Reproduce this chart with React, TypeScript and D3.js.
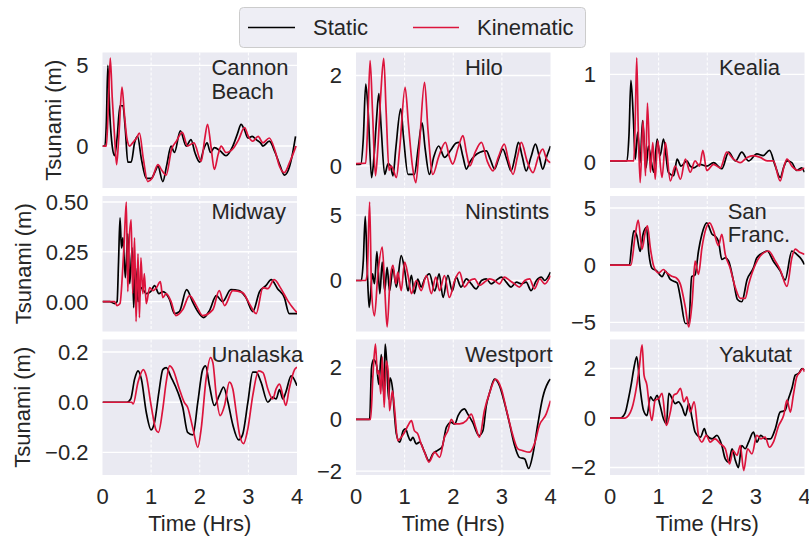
import React from 'react'
import * as d3 from 'd3'

// station names, "\n" where the label wraps inside the panel
const stations = ['Cannon\nBeach', 'Hilo', 'Kealia', 'Midway', 'Ninstints', 'San\nFranc.', 'Unalaska', 'Westport', 'Yakutat']

const timeTicks = [0, 1, 2, 3, 4]

const yTicks = [[0, 5], [0, 2], [0, 1], [0, 0.25, 0.5], [0, 5], [-5, 0, 5], [-0.2, 0, 0.2], [-2, 0, 2], [-2, 0, 2]]
const yLimits = [[-2.6, 5.8], [-0.49, 2.51], [-0.3, 1.25], [-0.15, 0.53], [-3.9, 6.46], [-5.8, 6.05], [-0.29, 0.25], [-2.15, 3.08], [-2.3, 3.17]]
const tickFormats = ['d', 'd', 'd', '.2f', 'd', 'd', '.1f', 'd', 'd']

// [hours, metres]
const cannonStatic = [[0,0],[0.05,0],[0.08,1.5],[0.11,5.0],[0.15,2.0],[0.2,0.0],[0.25,-0.6],[0.3,0.5],[0.36,2.5],[0.42,2.5],[0.47,1.0],[0.52,-1.0],[0.59,-1.0],[0.66,0.2],[0.72,0.6],[0.8,-0.8],[0.9,-2.0],[1.0,-2.0],[1.08,-1.6],[1.14,-1.25],[1.24,-2.2],[1.32,-1.2],[1.41,0.0],[1.48,-0.4],[1.6,0.95],[1.72,0.0],[1.82,0.4],[1.9,-0.4],[2.0,-1.0],[2.08,-0.2],[2.15,0.2],[2.22,-0.4],[2.3,-0.1],[2.42,-0.3],[2.54,-0.6],[2.68,0.0],[2.78,0.8],[2.85,1.35],[2.92,1.0],[2.99,0.5],[3.08,0.6],[3.16,0.4],[3.25,0.2],[3.3,0.0],[3.43,0.3],[3.55,-0.4],[3.65,-1.2],[3.74,-1.8],[3.82,-1.5],[3.9,-0.6],[3.97,0.6]]
const cannonKinematic = [[0,0],[0.08,0],[0.12,2.5],[0.16,5.45],[0.2,3.0],[0.25,0.5],[0.29,-1.15],[0.34,0.8],[0.4,3.65],[0.45,2.0],[0.5,0.5],[0.56,0.0],[0.62,0.2],[0.7,0.5],[0.76,0.8],[0.84,-0.8],[0.93,-2.2],[1.02,-2.0],[1.14,-1.15],[1.22,-1.5],[1.31,-1.8],[1.42,-0.2],[1.52,0.3],[1.64,0.85],[1.75,0.0],[1.88,0.2],[2.03,-0.95],[2.1,0.4],[2.16,1.35],[2.23,0.0],[2.3,-1.45],[2.38,-0.5],[2.44,0.0],[2.54,-0.4],[2.7,-0.1],[2.8,0.4],[2.92,1.15],[3.0,0.6],[3.09,0.3],[3.2,0.6],[3.3,0.2],[3.43,0.5],[3.55,-0.3],[3.64,-1.25],[3.74,-1.65],[3.85,-1.0],[3.98,0.0]]

const hiloStatic = [[0,0.03],[0.1,0.04],[0.15,0.6],[0.2,1.81],[0.25,1.2],[0.32,-0.26],[0.37,0.2],[0.42,1.0],[0.47,1.6],[0.52,0.8],[0.59,-0.19],[0.66,0.05],[0.71,0.0],[0.76,-0.22],[0.82,0.4],[0.92,1.26],[0.98,0.6],[1.07,-0.19],[1.2,-0.19],[1.28,0.4],[1.36,0.95],[1.42,0.4],[1.51,-0.19],[1.6,0.2],[1.7,0.44],[1.82,0.19],[1.95,0.35],[2.05,0.5],[2.12,0.52],[2.2,0.2],[2.27,-0.07],[2.35,0.1],[2.44,0.22],[2.55,0.3],[2.68,0.33],[2.76,0.15],[2.85,-0.07],[2.93,0.15],[3.02,0.37],[3.1,0.15],[3.19,-0.11],[3.27,0.2],[3.34,0.52],[3.42,0.2],[3.5,-0.11],[3.6,0.2],[3.69,0.48],[3.77,0.2],[3.84,-0.07],[3.92,0.2],[4.0,0.44]]
const hiloKinematic = [[0,0.05],[0.2,0.06],[0.24,0.9],[0.29,2.33],[0.34,1.2],[0.4,-0.22],[0.45,0.4],[0.51,1.6],[0.57,2.38],[0.62,1.2],[0.68,-0.1],[0.72,0.0],[0.77,-0.1],[0.83,-0.26],[0.9,0.4],[1.01,1.74],[1.08,0.9],[1.16,0.0],[1.23,-0.37],[1.3,0.4],[1.41,1.85],[1.48,0.8],[1.58,-0.19],[1.7,0.2],[1.84,0.52],[1.92,0.2],[1.99,0.04],[2.1,0.4],[2.2,0.67],[2.27,0.3],[2.34,0.0],[2.45,0.3],[2.58,0.52],[2.7,0.1],[2.82,-0.11],[2.93,0.2],[3.05,0.48],[3.14,0.1],[3.23,-0.19],[3.32,0.2],[3.4,0.52],[3.52,0.1],[3.64,-0.15],[3.75,0.2],[3.84,0.37],[3.92,0.15],[4.0,0.07]]

const kealiaStatic = [[0,0.01],[0.35,0.01],[0.39,0.3],[0.43,0.93],[0.48,0.5],[0.52,0.03],[0.57,0.34],[0.62,-0.01],[0.67,0.47],[0.74,-0.07],[0.79,0.18],[0.85,0.0],[0.9,-0.12],[0.97,0.26],[1.03,0.07],[1.1,0.26],[1.2,-0.12],[1.31,-0.16],[1.38,0.03],[1.46,-0.05],[1.58,0.01],[1.65,-0.05],[1.72,-0.07],[1.85,-0.03],[1.99,-0.05],[2.13,-0.01],[2.3,-0.08],[2.44,0.11],[2.58,0.01],[2.71,0.11],[2.85,0.01],[3.02,0.09],[3.15,0.07],[3.28,0.13],[3.4,-0.05],[3.5,-0.18],[3.58,-0.05],[3.64,0.01],[3.74,-0.01],[3.84,-0.1],[3.94,-0.07],[4.0,-0.12]]
const kealiaKinematic = [[0,0.01],[0.49,0.01],[0.52,0.5],[0.55,1.19],[0.58,0.4],[0.62,-0.24],[0.68,0.47],[0.73,-0.16],[0.77,0.67],[0.83,-0.12],[0.88,0.22],[0.93,-0.2],[0.98,0.24],[1.07,-0.18],[1.14,0.22],[1.24,-0.22],[1.34,-0.05],[1.45,-0.2],[1.55,0.03],[1.65,-0.12],[1.75,0.01],[1.84,-0.05],[1.91,0.13],[1.99,-0.1],[2.13,-0.03],[2.27,-0.07],[2.4,0.11],[2.54,0.03],[2.68,-0.01],[2.82,0.05],[2.95,0.07],[3.09,0.05],[3.23,0.01],[3.36,0.01],[3.5,-0.22],[3.58,-0.05],[3.64,0.03],[3.74,-0.05],[3.88,-0.1],[4.0,-0.07]]

const midwayStatic = [[0,0],[0.15,0],[0.25,-0.01],[0.3,0.0],[0.33,0.2],[0.36,0.42],[0.39,0.27],[0.42,0.32],[0.47,0.12],[0.52,0.34],[0.56,0.09],[0.61,0.27],[0.64,-0.03],[0.68,0.17],[0.73,0.0],[0.8,0.07],[0.9,0.04],[0.99,0.05],[1.07,0.08],[1.16,0.04],[1.24,0.05],[1.38,0.01],[1.48,-0.06],[1.58,-0.05],[1.73,0.06],[1.85,0.0],[1.96,-0.05],[2.08,-0.08],[2.2,-0.045],[2.34,0.03],[2.47,0.0],[2.64,0.06],[2.81,0.055],[2.95,0.02],[3.09,-0.05],[3.23,0.05],[3.36,0.08],[3.47,0.11],[3.6,0.065],[3.74,0.02],[3.84,-0.06],[4.0,-0.06]]
const midwayKinematic = [[0,0],[0.25,0],[0.3,-0.02],[0.36,-0.01],[0.41,0.14],[0.45,0.32],[0.49,0.5],[0.52,0.05],[0.55,0.31],[0.59,0.41],[0.62,0.04],[0.66,0.32],[0.69,-0.1],[0.73,0.24],[0.76,-0.08],[0.79,0.22],[0.83,0.04],[0.86,0.14],[0.9,-0.01],[0.97,0.07],[1.04,0.055],[1.11,0.07],[1.19,0.1],[1.24,0.02],[1.31,0.04],[1.41,0.0],[1.51,-0.07],[1.65,-0.04],[1.79,0.03],[1.93,-0.02],[2.06,-0.07],[2.27,-0.04],[2.4,0.055],[2.51,-0.02],[2.68,0.055],[2.88,0.045],[3.02,-0.01],[3.16,-0.06],[3.3,0.07],[3.4,0.065],[3.53,0.11],[3.67,0.065],[3.81,0.005],[3.91,-0.03],[4.0,-0.055]]

const ninstintsStatic = [[0,0],[0.11,0],[0.15,1.5],[0.19,4.9],[0.23,1.0],[0.27,-2.05],[0.34,0.5],[0.38,-0.25],[0.43,2.2],[0.49,-1.0],[0.54,1.4],[0.59,-0.8],[0.64,1.0],[0.69,-0.8],[0.76,0.9],[0.83,-0.5],[0.93,1.9],[1.0,0.8],[1.07,-0.8],[1.14,0.4],[1.2,-1.0],[1.27,0.1],[1.34,-0.5],[1.41,0.1],[1.51,0.5],[1.62,-0.8],[1.71,0.5],[1.79,-1.3],[1.89,0.4],[1.98,-0.8],[2.06,0.25],[2.16,-0.5],[2.27,0.13],[2.37,-0.26],[2.47,-0.64],[2.58,0.0],[2.68,0.13],[2.78,-0.26],[2.88,0.0],[2.99,0.26],[3.09,-0.13],[3.19,-0.5],[3.3,-0.13],[3.4,-0.26],[3.5,-0.13],[3.6,-0.77],[3.71,0.0],[3.81,0.26],[3.88,0.0],[4.0,0.64]]
const ninstintsKinematic = [[0,0],[0.2,0],[0.23,0.5],[0.28,6.0],[0.32,-0.8],[0.38,-2.7],[0.45,0.5],[0.54,2.56],[0.59,-0.5],[0.64,-3.55],[0.7,0.0],[0.76,1.15],[0.82,-0.26],[0.86,0.64],[0.93,-0.77],[1.0,1.4],[1.07,0.38],[1.14,-1.0],[1.24,0.0],[1.34,-0.77],[1.45,0.38],[1.55,-1.0],[1.64,0.26],[1.72,-0.77],[1.82,0.38],[1.92,-1.3],[2.03,0.0],[2.13,0.64],[2.23,-0.5],[2.34,0.0],[2.44,0.13],[2.54,-0.38],[2.64,-0.13],[2.75,0.13],[2.85,0.0],[2.95,-0.26],[3.05,0.26],[3.16,0.0],[3.26,-0.26],[3.36,-0.5],[3.47,0.0],[3.57,0.13],[3.67,-0.64],[3.78,0.13],[3.88,-0.26],[4.0,0.38]]

const sanFrancStatic = [[0,0],[0.4,0],[0.44,1.5],[0.49,3.0],[0.55,2.6],[0.62,1.2],[0.68,2.7],[0.75,3.3],[0.8,1.0],[0.86,-0.24],[0.96,-0.5],[1.07,-1.0],[1.14,-0.55],[1.24,-1.25],[1.31,-1.4],[1.38,-1.55],[1.45,-2.9],[1.55,-5.1],[1.62,-5.1],[1.68,-1.0],[1.75,-0.85],[1.82,1.24],[1.89,2.7],[1.99,3.7],[2.1,2.7],[2.16,2.55],[2.23,2.1],[2.3,0.5],[2.37,0.65],[2.44,0.35],[2.54,-1.4],[2.62,-3.0],[2.71,-3.2],[2.82,-1.25],[2.95,-0.24],[3.02,0.65],[3.16,1.1],[3.23,1.24],[3.36,0.35],[3.5,-0.5],[3.6,-1.3],[3.74,1.24],[3.84,0.95],[3.94,0.5],[4.0,0.06]]
const sanFrancKinematic = [[0,0],[0.43,0],[0.52,2.7],[0.58,3.94],[0.66,1.4],[0.73,3.0],[0.77,3.44],[0.83,1.5],[0.9,-0.1],[1.0,-0.68],[1.1,-0.38],[1.17,-0.68],[1.27,-0.97],[1.36,-1.1],[1.45,-1.7],[1.55,-3.7],[1.62,-5.4],[1.69,-3.2],[1.75,0.35],[1.82,-0.8],[1.89,1.5],[1.96,3.0],[2.05,3.7],[2.13,3.0],[2.23,1.7],[2.3,2.7],[2.37,0.95],[2.47,-0.24],[2.58,-2.0],[2.68,-2.9],[2.78,-2.9],[2.85,-1.7],[2.99,0.06],[3.09,0.8],[3.26,1.24],[3.4,0.35],[3.5,-0.4],[3.64,-1.85],[3.74,0.65],[3.81,1.4],[3.91,1.1],[4.0,0.95]]

const unalaskaStatic = [[0,0],[0.5,0],[0.58,0.013],[0.66,0.092],[0.73,0.125],[0.8,0.092],[0.9,-0.04],[1.0,-0.11],[1.07,-0.08],[1.16,0.04],[1.24,0.13],[1.31,0.138],[1.41,0.1],[1.55,0.04],[1.65,-0.02],[1.75,-0.12],[1.86,-0.13],[1.96,0.0],[2.06,0.13],[2.12,0.145],[2.2,0.066],[2.3,-0.013],[2.4,0.026],[2.49,0.06],[2.58,0.0],[2.68,-0.09],[2.8,-0.15],[2.88,-0.13],[2.99,0.0],[3.09,0.12],[3.16,0.12],[3.26,0.08],[3.4,0.0],[3.5,0.02],[3.57,0.013],[3.64,0.05],[3.71,0.013],[3.77,0.04],[3.88,0.105],[4.0,0.066]]
const unalaskaKinematic = [[0,0],[0.6,0],[0.63,-0.007],[0.73,0.08],[0.84,0.13],[0.9,0.105],[1.0,-0.013],[1.1,-0.11],[1.15,-0.12],[1.24,-0.026],[1.31,0.08],[1.38,0.145],[1.45,0.13],[1.58,0.053],[1.68,0.0],[1.75,-0.02],[1.86,-0.105],[1.96,-0.18],[2.03,-0.105],[2.13,0.092],[2.22,0.178],[2.27,0.158],[2.34,0.026],[2.42,-0.053],[2.51,-0.013],[2.61,0.08],[2.68,0.053],[2.75,-0.04],[2.82,-0.13],[2.9,-0.165],[2.99,-0.105],[3.09,0.026],[3.21,0.125],[3.3,0.118],[3.4,0.053],[3.5,0.013],[3.57,0.053],[3.64,0.072],[3.71,0.026],[3.77,-0.013],[3.84,0.053],[3.95,0.13],[4.0,0.14]]

const westportStatic = [[0,0],[0.28,0],[0.32,2.0],[0.36,2.3],[0.42,2.1],[0.47,1.35],[0.52,2.5],[0.57,1.0],[0.6,2.9],[0.63,2.25],[0.67,0.78],[0.7,1.6],[0.75,1.2],[0.79,0.2],[0.83,-0.56],[0.9,-0.88],[0.97,-0.44],[1.02,-0.37],[1.07,-0.63],[1.12,-0.82],[1.17,-0.7],[1.24,-0.95],[1.31,-0.88],[1.41,-1.27],[1.5,-1.6],[1.58,-1.33],[1.68,-1.2],[1.77,-1.07],[1.86,-0.3],[1.96,-0.12],[2.03,-0.18],[2.1,0.14],[2.23,0.4],[2.3,0.2],[2.4,-0.12],[2.53,-0.63],[2.61,-0.44],[2.68,0.53],[2.75,1.04],[2.85,1.55],[2.95,1.3],[3.06,0.59],[3.16,-0.18],[3.26,-1.0],[3.36,-1.47],[3.47,-1.53],[3.55,-1.9],[3.64,-1.33],[3.74,-0.18],[3.84,0.84],[3.95,1.42],[4.0,1.55]]
const westportKinematic = [[0,0],[0.3,0],[0.35,1.75],[0.4,2.9],[0.44,1.75],[0.47,1.88],[0.51,0.98],[0.54,2.4],[0.58,0.46],[0.62,2.26],[0.66,1.88],[0.69,0.33],[0.75,1.1],[0.79,0.46],[0.86,-0.82],[0.93,-0.69],[1.0,-0.5],[1.07,-0.24],[1.14,-0.05],[1.2,-0.44],[1.27,-0.56],[1.34,-0.95],[1.41,-1.27],[1.5,-1.65],[1.62,-1.27],[1.72,-1.47],[1.82,-0.69],[1.89,-0.44],[1.96,0.0],[2.03,-0.18],[2.13,-0.18],[2.27,-0.05],[2.37,0.2],[2.46,-0.3],[2.54,-0.69],[2.64,0.33],[2.75,1.04],[2.87,1.55],[2.99,1.17],[3.09,0.4],[3.19,-0.37],[3.33,-1.14],[3.43,-1.21],[3.57,-1.27],[3.67,-0.95],[3.77,-0.24],[3.91,0.2],[4.0,0.72]]

const yakutatStatic = [[0,0],[0.21,0],[0.31,0.2],[0.38,0.78],[0.44,1.4],[0.49,2.0],[0.55,2.47],[0.62,1.2],[0.69,0.3],[0.76,0.1],[0.83,0.85],[0.9,0.7],[0.97,0.92],[1.03,0.51],[1.1,-0.03],[1.16,-0.23],[1.21,1.0],[1.28,0.78],[1.34,0.58],[1.41,0.65],[1.48,0.45],[1.55,0.1],[1.62,0.58],[1.69,-0.03],[1.75,-0.57],[1.86,-0.77],[1.94,-0.43],[1.99,-0.7],[2.1,-0.84],[2.2,-0.7],[2.3,-1.11],[2.37,-1.65],[2.44,-1.78],[2.51,-1.24],[2.58,-1.72],[2.64,-2.0],[2.71,-1.11],[2.78,-1.24],[2.85,-0.97],[2.95,-0.57],[3.02,-0.97],[3.1,-0.7],[3.19,-0.84],[3.3,-0.84],[3.4,-0.43],[3.5,0.24],[3.6,0.3],[3.67,0.78],[3.74,1.19],[3.81,1.73],[3.88,1.8],[3.95,2.0],[4.0,1.93]]
const yakutatKinematic = [[0,0],[0.31,0],[0.38,0.1],[0.45,0.38],[0.55,1.32],[0.6,2.0],[0.66,2.95],[0.7,1.73],[0.76,1.32],[0.81,0.45],[0.86,-0.1],[0.93,0.72],[1.0,0.78],[1.07,1.0],[1.16,-0.3],[1.24,0.24],[1.31,0.92],[1.38,1.0],[1.45,1.2],[1.52,0.65],[1.58,0.85],[1.65,0.24],[1.73,0.65],[1.82,-0.7],[1.89,-0.97],[1.98,-0.7],[2.06,-0.97],[2.16,-0.84],[2.27,-1.04],[2.37,-1.24],[2.46,-1.85],[2.53,-1.31],[2.61,-1.51],[2.68,-1.11],[2.75,-2.12],[2.83,-1.24],[2.92,-1.45],[3.02,-0.7],[3.1,-0.84],[3.19,-0.77],[3.28,-1.18],[3.36,-0.97],[3.47,-0.3],[3.57,0.1],[3.64,0.72],[3.71,0.24],[3.77,0.92],[3.84,1.66],[3.91,1.86],[3.97,2.0],[4.0,1.86]]

const staticRuns = [cannonStatic, hiloStatic, kealiaStatic, midwayStatic, ninstintsStatic, sanFrancStatic, unalaskaStatic, westportStatic, yakutatStatic]
const kinematicRuns = [cannonKinematic, hiloKinematic, kealiaKinematic, midwayKinematic, ninstintsKinematic, sanFrancKinematic, unalaskaKinematic, westportKinematic, yakutatKinematic]

const FONT = "'Liberation Sans', Arial, sans-serif"
const FS = 22
const TEXT = '#262626'
const BG = '#EAEAF2'
const RED = '#DC143C'

const colLeft = [102.5, 356, 610]
const rowTop = [52.5, 196, 339.5]
const panelW = 194.5
const panelH = 135.5
// label start within each panel, as a share of its width
const titleShift = [0.56, 0.56, 0.56, 0.56, 0.56, 0.605, 0.56, 0.56, 0.56]

let ctx: CanvasRenderingContext2D | null = null
const textWidth = (s: string) => {
    if (!ctx) {
        ctx = document.createElement('canvas').getContext('2d')
        if (ctx) ctx.font = `${FS}px ${FONT}`
    }
    return ctx ? ctx.measureText(s).width : s.length * FS * 0.55
}

const Panel = ({ i }: { i: number }) => {
    const col = i % 3
    const row = Math.floor(i / 3)
    const left = colLeft[col]
    const top = rowTop[row]

    const x = d3.scaleLinear().domain([0, 4]).range([left, left + panelW])
    const y = d3.scaleLinear().domain(yLimits[i]).range([top + panelH, top])
    const fmt = d3.format(tickFormats[i])
    const line = d3.line<number[]>()
        .x(d => x(d[0]))
        .y(d => y(d[1]))
        .curve(d3.curveMonotoneX)

    const labelW = d3.max(yTicks[i], t => textWidth(fmt(t))) || 0
    const labelX = left - 14 - labelW - 15
    const clipId = `clip-${i}`

    return (
        <g>
            <clipPath id={clipId}>
                <rect x={left} y={top} width={panelW} height={panelH} />
            </clipPath>
            <rect x={left} y={top} width={panelW} height={panelH} fill={BG} />
            {yTicks[i].map(t => (
                <line key={'gy' + t} x1={left} x2={left + panelW} y1={y(t)} y2={y(t)} stroke='#fff' strokeWidth={1.4} />
            ))}
            {timeTicks.slice(1, -1).map(t => (
                <line key={'gx' + t} x1={x(t)} x2={x(t)} y1={top} y2={top + panelH} stroke='#fff' strokeWidth={1} strokeDasharray='3,2' />
            ))}
            <g clipPath={`url(#${clipId})`}>
                <path d={line(staticRuns[i]) || ''} fill='none' stroke='#000' strokeWidth={1.7} strokeLinejoin='round' />
                <path d={line(kinematicRuns[i]) || ''} fill='none' stroke={RED} strokeWidth={1.7} strokeLinejoin='round' />
            </g>
            {yTicks[i].map(t => (
                <text key={'ty' + t} x={left - 14} y={y(t)} dy='0.36em' textAnchor='end' fontSize={FS} fill={TEXT}>{fmt(t)}</text>
            ))}
            {row === 2 && timeTicks.map(t => (
                <text key={'tx' + t} x={x(t)} y={top + panelH + 29} textAnchor='middle' fontSize={FS} fill={TEXT}>{t}</text>
            ))}
            {row === 2 && (
                <text x={left + panelW / 2} y={top + panelH + 56} textAnchor='middle' fontSize={FS} fill={TEXT}>Time (Hrs)</text>
            )}
            {col === 0 && (
                <text transform={`translate(${labelX},${top + panelH / 2}) rotate(-90)`} textAnchor='middle' fontSize={FS} fill={TEXT}>Tsunami (m)</text>
            )}
            {stations[i].split('\n').map((s, k) => (
                <text key={'n' + k} x={left + panelW * titleShift[i]} y={top + 22.5 + k * 23.5} fontSize={FS} fill={TEXT}>{s}</text>
            ))}
        </g>
    )
}

const App = () => {
    return (
        <svg width={809} height={540} style={{ position: 'absolute', left: 0, top: 0, background: '#fff' }} fontFamily={FONT}>
            {stations.map((s, i) => <Panel key={s} i={i} />)}
            <g>
                <rect x={239.5} y={7.5} width={346} height={40} rx={4} fill={BG} fillOpacity={0.8} stroke='#CCCCCC' />
                <line x1={248} x2={295} y1={27.5} y2={27.5} stroke='#000' strokeWidth={1.7} />
                <text x={313} y={35} fontSize={FS} fill={TEXT}>Static</text>
                <line x1={413} x2={459} y1={27.5} y2={27.5} stroke={RED} strokeWidth={1.7} />
                <text x={477} y={35} fontSize={FS} fill={TEXT}>Kinematic</text>
            </g>
        </svg>
    )
}

export default App
